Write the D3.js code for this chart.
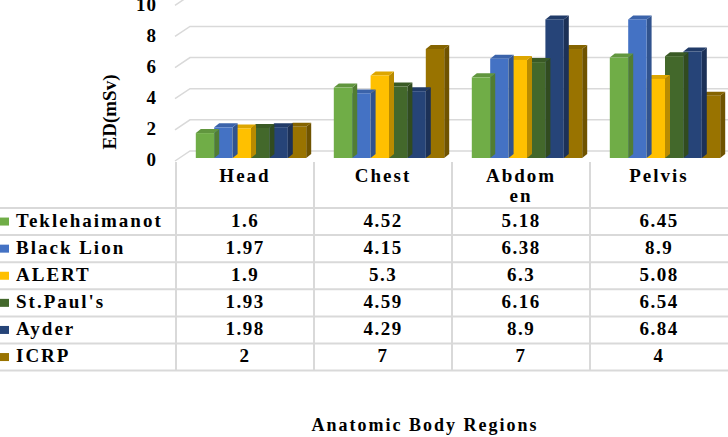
<!DOCTYPE html>
<html>
<head>
<meta charset="utf-8">
<script src="https://cdn.jsdelivr.net/npm/d3@7"></script>
<style>
  body { margin: 0; background: #fff; }
  svg text { font-family: "Liberation Serif", "Times New Roman", serif; font-weight: bold; fill: #000; }
</style>
</head>
<body>
<svg id="chart" width="728" height="437"></svg>
<script>
// categories + series
var regions = ["Head", "Chest", "Abdomen", "Pelvis"];
var regionLabels = [["Head"], ["Chest"], ["Abdom", "en"], ["Pelvis"]];
var hospitals = ["Teklehaimanot", "Black Lion", "ALERT", "St.Paul's", "Ayder", "ICRP"];
var colors = ["#70ad47", "#4472c4", "#ffc000", "#43682b", "#264478", "#997300"];
var teklehaimanot = [1.6, 4.52, 5.18, 6.45];
var blackLion = [1.97, 4.15, 6.38, 8.9];
var alert_ = [1.9, 5.3, 6.3, 5.08];
var stPauls = [1.93, 4.59, 6.16, 6.54];
var ayder = [1.98, 4.29, 8.9, 6.84];
var icrp = [2, 7, 7, 4];
var yTicks = [0, 2, 4, 6, 8, 10];

var series = [teklehaimanot, blackLion, alert_, stPauls, ayder, icrp];

var svg = d3.select("#chart");
var W = 728;

var x = d3.scaleBand().domain(regions).range([176, 728]).paddingInner(0).paddingOuter(0);
var y = d3.scaleLinear().domain([0, 10]).range([158, 2.3]);
var xs = d3.scaleBand().domain(d3.range(hospitals.length)).range([0, x.bandwidth() * 0.8]);

// depth offsets
var wallDx = 15, wallDy = -10, frontDy = 3;
var barDx = 5, barDy = -4, shift = 6;

// walls / gridlines
var grid = svg.append("g").attr("class", "grid");
yTicks.forEach(function (v) {
  var yf = y(v) + frontDy, yb = yf + wallDy;
  grid.append("path")
    .attr("d", "M175," + yf + "L" + (175 + wallDx) + "," + yb + "L" + W + "," + yb)
    .attr("fill", "none").attr("stroke", "#d9d9d9").attr("stroke-width", 1.5);
});

// y tick labels
svg.append("g").selectAll("text").data(yTicks).enter().append("text")
  .attr("x", 157).attr("y", function (d) { return y(d) + 4; })
  .attr("text-anchor", "end").attr("dominant-baseline", "middle")
  .attr("font-size", 19).attr("letter-spacing", 1).text(function (d) { return d; });

svg.append("text")
  .attr("transform", "translate(116,112) rotate(-90)")
  .attr("text-anchor", "middle").attr("font-size", 19)
  .text("ED(mSv)");

// bars with a little 3d depth, drawn back to front within each group
var bars = svg.append("g").attr("class", "bars");
regions.forEach(function (r, ri) {
  var x0 = x(r) + (x.bandwidth() - xs.range()[1]) / 2 + shift;
  for (var si = series.length - 1; si >= 0; si--) {
    var v = series[si][ri];
    var bx = x0 + xs(si), bw = xs.bandwidth();
    var top = y(v), bot = y(0);
    var c = d3.color(colors[si]);
    var g = bars.append("g");
    // side
    g.append("path")
      .attr("d", "M" + (bx + bw) + "," + top + "L" + (bx + bw + barDx) + "," + (top + barDy) +
        "L" + (bx + bw + barDx) + "," + (bot + barDy) + "L" + (bx + bw) + "," + bot + "Z")
      .attr("fill", c.darker(0.9));
    // top
    g.append("path")
      .attr("d", "M" + bx + "," + top + "L" + (bx + barDx) + "," + (top + barDy) +
        "L" + (bx + bw + barDx) + "," + (top + barDy) + "L" + (bx + bw) + "," + top + "Z")
      .attr("fill", c.darker(0.4));
    // front
    g.append("rect")
      .attr("x", bx).attr("y", top).attr("width", bw).attr("height", bot - top)
      .attr("fill", c);
  }
});

// data table under the axis
var rowTop = 208, rowH = 27.1;
var table = svg.append("g").attr("class", "table");
var lineCol = "#d9d9d9";
d3.range(hospitals.length + 1).forEach(function (i) {
  table.append("line")
    .attr("x1", 0).attr("x2", W)
    .attr("y1", rowTop + i * rowH).attr("y2", rowTop + i * rowH)
    .attr("stroke", lineCol).attr("stroke-width", 2);
});
regions.forEach(function (r) {
  table.append("line")
    .attr("x1", x(r)).attr("x2", x(r))
    .attr("y1", 162).attr("y2", rowTop + hospitals.length * rowH)
    .attr("stroke", lineCol).attr("stroke-width", 2);
});

// header labels
regions.forEach(function (r, ri) {
  regionLabels[ri].forEach(function (t, li) {
    table.append("text")
      .attr("x", x(r) + x.bandwidth() / 2).attr("y", 178 + li * 20)
      .attr("text-anchor", "middle").attr("dominant-baseline", "middle")
      .attr("font-size", 19).attr("letter-spacing", 2).text(t);
  });
});

// rows
hospitals.forEach(function (h, si) {
  var cy = rowTop + si * rowH + rowH / 2;
  table.append("rect").attr("x", 0).attr("y", cy - 4).attr("width", 9).attr("height", 8)
    .attr("fill", colors[si]);
  table.append("text")
    .attr("x", 16).attr("y", cy + 1)
    .attr("dominant-baseline", "middle")
    .attr("font-size", 19).attr("letter-spacing", 2).text(h);
  series[si].forEach(function (v, ri) {
    table.append("text")
      .attr("x", x(regions[ri]) + x.bandwidth() / 2).attr("y", cy + 1)
      .attr("text-anchor", "middle").attr("dominant-baseline", "middle")
      .attr("font-size", 19).attr("letter-spacing", 1.5).text(v);
  });
});

svg.append("text")
  .attr("x", 425).attr("y", 431)
  .attr("text-anchor", "middle").attr("font-size", 18).attr("letter-spacing", 2)
  .text("Anatomic Body Regions");
</script>
</body>
</html>
